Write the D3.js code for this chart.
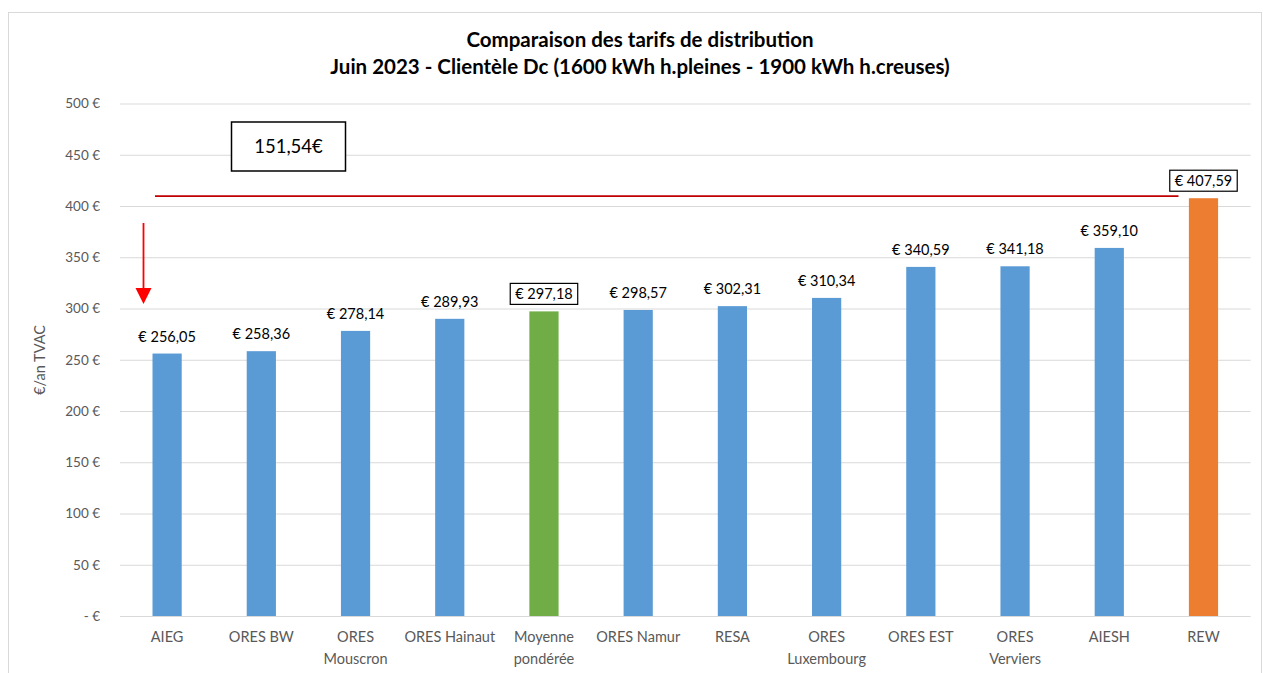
<!DOCTYPE html>
<html>
<head>
<meta charset="utf-8">
<script src="https://cdn.jsdelivr.net/npm/d3@7"></script>
<style>
  body { margin: 0; background: #fff; }
  svg { font-family: Lato, "Open Sans", sans-serif; }
</style>
</head>
<body>
<div id="chart"></div>
<script>
var categories = [['AIEG'], ['ORES BW'], ['ORES', 'Mouscron'], ['ORES Hainaut'], ['Moyenne', 'pondérée'],
  ['ORES Namur'], ['RESA'], ['ORES', 'Luxembourg'], ['ORES EST'], ['ORES', 'Verviers'], ['AIESH'], ['REW']]
var values = [256.05, 258.36, 278.14, 289.93, 297.18, 298.57, 302.31, 310.34, 340.59, 341.18, 359.10, 407.59]
var barColors = ['#5B9BD5', '#5B9BD5', '#5B9BD5', '#5B9BD5', '#70AD47', '#5B9BD5',
  '#5B9BD5', '#5B9BD5', '#5B9BD5', '#5B9BD5', '#5B9BD5', '#ED7D31']
var boxedLabels = [4, 11]
var yTicks = [0, 50, 100, 150, 200, 250, 300, 350, 400, 450, 500]
var titleLines = ['Comparaison des tarifs de distribution',
  'Juin 2023 - Clientèle Dc (1600 kWh h.pleines - 1900 kWh h.creuses)']
var maxValue = 407.59
var gapLabel = '151,54€'

var width = 1263, height = 673

var svg = d3.select('#chart')
  .append('svg')
  .attr('width', width)
  .attr('height', height)

// cadre du graphique
svg.append('rect')
  .attr('x', 8.5).attr('y', 12.5)
  .attr('width', width - 10).attr('height', height)
  .attr('fill', '#fff')
  .attr('stroke', '#d9d9d9')

var x = d3.scaleBand()
  .domain(d3.range(categories.length))
  .range([120, 1250.6])
  .paddingInner(0.69)
  .paddingOuter(0.345)

var y = d3.scaleLinear()
  .domain([0, 500])
  .range([616, 103.5])

// titre
svg.append('g').selectAll('text')
  .data(titleLines)
  .enter()
  .append('text')
  .attr('x', 640)
  .attr('y', (d, i) => 47 + i * 27)
  .attr('text-anchor', 'middle')
  .attr('font-size', 20.5)
  .attr('font-weight', 'bold')
  .attr('fill', '#000')
  .text(d => d)

// axe Y
var yAxis = d3.axisLeft(y)
  .tickValues(yTicks)
  .tickSize(-(1250.6 - 120))
  .tickPadding(20)
  .tickFormat(d => d === 0 ? '-   €' : d + ' €')

var gy = svg.append('g')
  .attr('transform', 'translate(120,0)')
  .call(yAxis)
gy.select('.domain').remove()
gy.selectAll('.tick line').attr('stroke', '#d9d9d9').attr('stroke-width', 1)
gy.selectAll('.tick text')
  .attr('fill', '#595959')
  .attr('font-size', 13.5)
  .attr('font-family', 'Lato, sans-serif')

svg.append('text')
  .attr('transform', 'translate(45,360) rotate(-90)')
  .attr('text-anchor', 'middle')
  .attr('font-size', 14.5)
  .attr('fill', '#595959')
  .text('€/an TVAC')

// barres
svg.append('g').selectAll('rect')
  .data(values)
  .enter()
  .append('rect')
  .attr('x', (d, i) => x(i))
  .attr('y', d => y(d))
  .attr('width', x.bandwidth())
  .attr('height', d => y(0) - y(d))
  .attr('fill', (d, i) => barColors[i])

// axe X (libellés)
var gx = svg.append('g')
gx.selectAll('text')
  .data(categories)
  .enter()
  .append('text')
  .attr('x', (d, i) => x(i) + x.bandwidth() / 2)
  .attr('y', 642)
  .attr('text-anchor', 'middle')
  .attr('font-size', 14.5)
  .attr('fill', '#595959')
  .each(function(d) {
    d3.select(this).selectAll('tspan')
      .data(d)
      .enter()
      .append('tspan')
      .attr('x', d3.select(this).attr('x'))
      .attr('dy', (t, j) => j === 0 ? 0 : 22)
      .text(t => t)
  })

// étiquettes de valeurs
var fmt = d => '€ ' + d.toFixed(2).replace('.', ',')
var labels = svg.append('g').selectAll('g')
  .data(values)
  .enter()
  .append('g')

labels.filter((d, i) => boxedLabels.indexOf(i) >= 0)
  .append('rect')
  .attr('fill', '#fff')
  .attr('stroke', '#000')
  .attr('stroke-width', 1.2)

labels.append('text')
  .attr('x', (d, i) => x(i) + x.bandwidth() / 2)
  .attr('y', d => y(d) - 12)
  .attr('text-anchor', 'middle')
  .attr('font-size', 14.5)
  .attr('fill', '#000')
  .text(fmt)

labels.each(function() {
  var g = d3.select(this)
  var r = g.select('rect')
  if (r.empty()) return
  var b = g.select('text').node().getBBox()
  r.attr('x', b.x - 5).attr('y', b.y - 2)
    .attr('width', b.width + 10).attr('height', b.height + 4)
})

// ligne rouge au niveau du maximum
svg.append('line')
  .attr('x1', 155).attr('x2', 1178.5)
  .attr('y1', y(maxValue) - 2).attr('y2', y(maxValue) - 2)
  .attr('stroke', '#C00000')
  .attr('stroke-width', 1.8)

// flèche rouge
svg.append('line')
  .attr('x1', 143.5).attr('x2', 143.5)
  .attr('y1', 223).attr('y2', 290)
  .attr('stroke', '#FF0000')
  .attr('stroke-width', 1.8)
svg.append('path')
  .attr('d', 'M135.5,288 L151.5,288 L143.5,304 Z')
  .attr('fill', '#FF0000')

// encadré de l'écart
svg.append('rect')
  .attr('x', 231.5).attr('y', 122)
  .attr('width', 114).attr('height', 49)
  .attr('fill', '#fff')
  .attr('stroke', '#000')
  .attr('stroke-width', 1.5)
svg.append('text')
  .attr('x', 288.5).attr('y', 153)
  .attr('text-anchor', 'middle')
  .attr('font-size', 18.5)
  .attr('fill', '#000')
  .text(gapLabel)
</script>
</body>
</html>
